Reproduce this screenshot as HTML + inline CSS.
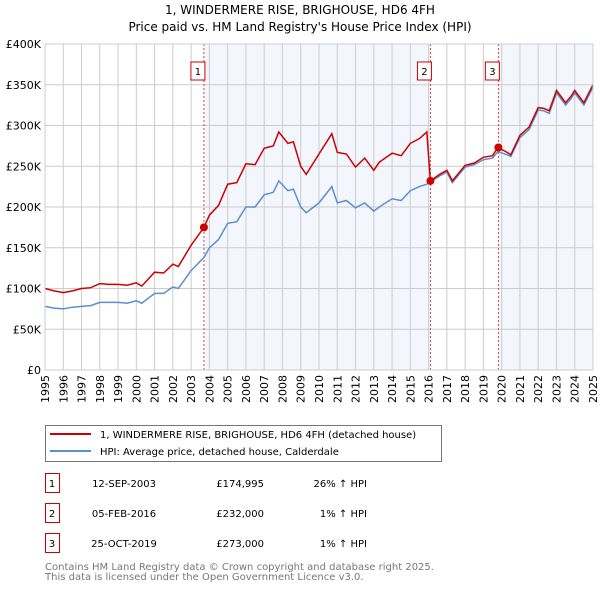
<!DOCTYPE html>
<html><head><meta charset="utf-8"><style>
body{margin:0;background:#fff;font-family:"DejaVu Sans","Liberation Sans",sans-serif}
svg text{font-family:"DejaVu Sans","Liberation Sans",sans-serif}
</style></head><body>
<svg id="c" width="600" height="590" xmlns="http://www.w3.org/2000/svg">
<text x="300" y="14" text-anchor="middle" font-size="12">1, WINDERMERE RISE, BRIGHOUSE, HD6 4FH</text>
<text x="300" y="31" text-anchor="middle" font-size="12">Price paid vs. HM Land Registry's House Price Index (HPI)</text>
<g id="plot"></g>
<rect x="45.5" y="425.5" width="396" height="36" fill="#fff" stroke="#777"/>
<line x1="50" y1="434" x2="91" y2="434" stroke="#cc0000" stroke-width="2"/>
<text x="100" y="438" font-size="10">1, WINDERMERE RISE, BRIGHOUSE, HD6 4FH (detached house)</text>
<line x1="50" y1="451" x2="91" y2="451" stroke="#5b8fcf" stroke-width="2"/>
<text x="100" y="455" font-size="10">HPI: Average price, detached house, Calderdale</text>
<g id="tbl"></g>
<text x="45" y="570" font-size="10" fill="#777">Contains HM Land Registry data © Crown copyright and database right 2025.</text>
<text x="45" y="580" font-size="10" fill="#777">This data is licensed under the Open Government Licence v3.0.</text>
</svg>
<script>
const years=[1995,1995.5,1996,1996.5,1997,1997.5,1998,1998.5,1999,1999.5,2000,2000.3,2001,2001.5,2002,2002.3,2003,2003.7,2004,2004.5,2005,2005.5,2006,2006.5,2007,2007.5,2007.8,2008.3,2008.6,2009,2009.3,2010,2010.7,2011,2011.5,2012,2012.5,2013,2013.3,2014,2014.5,2015,2015.5,2015.9,2016.1,2016.6,2017,2017.3,2018,2018.5,2019,2019.5,2019.8,2020.3,2020.5,2021,2021.5,2022,2022.3,2022.6,2023,2023.5,2023.8,2024,2024.5,2025];
const hpiValues=[78,76,75,77,78,79,83,83,83,82,85,82,94,94,102,100,122,138,150,160,180,182,200,200,215,218,232,220,222,200,193,205,225,205,208,199,205,195,200,210,208,220,225,228,231,238,243,230,249,252,258,260,268,264,262,285,295,319,318,315,340,325,333,340,325,347];
const priceValues=[100,97,95,97,100,101,106,105,105,104,107,103,120,119,130,127,153,175,190,202,228,230,253,252,272,275,292,278,280,250,240,265,290,267,265,249,260,245,255,266,263,278,284,292,232,240,245,232,251,254,261,263,273,267,264,288,298,322,321,318,343,328,336,343,328,350];
const yTicks=[0,50,100,150,200,250,300,350,400];
const xTickYears=[1995,1996,1997,1998,1999,2000,2001,2002,2003,2004,2005,2006,2007,2008,2009,2010,2011,2012,2013,2014,2015,2016,2017,2018,2019,2020,2021,2022,2023,2024,2025];
const saleYears=[2003.7,2016.1,2019.82];
const saleValues=[174.995,232,273];
const saleLabels=["1","2","3"];
const saleDates=["12-SEP-2003","05-FEB-2016","25-OCT-2019"];
const salePrices=["£174,995","£232,000","£273,000"];
const saleDiffs=["26% ↑ HPI","1% ↑ HPI","1% ↑ HPI"];
const NS="http://www.w3.org/2000/svg";
const X0=45,X1=593,Y0=370,Y1=44;
const xs=y=>X0+(y-1995)/30*(X1-X0);
const ys=v=>Y0-v/400*(Y0-Y1);
function mk(p,t,a){const e=document.createElementNS(NS,t);for(const k in a)e.setAttribute(k,a[k]);p.appendChild(e);return e;}
const g=document.getElementById('plot');
const shade1=mk(g,'rect',{x:xs(saleYears[0]),y:Y1,width:xs(saleYears[1])-xs(saleYears[0]),height:Y0-Y1,fill:'#f3f6fd'});


const shade2=mk(g,'rect',{x:xs(saleYears[2]),y:Y1,width:X1-xs(saleYears[2]),height:Y0-Y1,fill:'#f3f6fd'});


yTicks.forEach(v=>{
 const l=mk(g,'line',{x1:X0,x2:X1,y1:ys(v),y2:ys(v),stroke:'#ccc'});
 
 
 const t=mk(g,'text',{x:X0-4,y:ys(v)+4,'text-anchor':'end','font-size':11});
 
 
 t.textContent=v===0?'£0':'£'+v+'K';
});
xTickYears.forEach(yr=>{
 const l=mk(g,'line',{x1:xs(yr),x2:xs(yr),y1:Y1,y2:Y0,stroke:'#ccc'});
 
 
 const t=mk(g,'text',{transform:`translate(${xs(yr)+4},${Y0+5}) rotate(-90)`,'text-anchor':'end','font-size':11});
 
 
 t.textContent=yr;
});
saleYears.forEach((yr,i)=>{
 const l=mk(g,'line',{x1:xs(yr),x2:xs(yr),y1:Y1,y2:Y0,stroke:'#e04040','stroke-dasharray':'2,2','stroke-width':1});
 
 
 const b=mk(g,'rect',{x:xs(yr)-7-6,y:62,width:14,height:18,fill:'#fff',stroke:'#cc0000'});
 
 
 const t=mk(g,'text',{x:xs(yr)-6,y:75,'text-anchor':'middle','font-size':10});
 
 
 t.textContent=saleLabels[i];
});
const pts=a=>a.map((v,i)=>xs(years[i]).toFixed(1)+','+ys(v).toFixed(1)).join(' ');
const hl=mk(g,'polyline',{points:pts(hpiValues),fill:'none',stroke:'#5b8fcf','stroke-width':1.5});


const pl=mk(g,'polyline',{points:pts(priceValues),fill:'none',stroke:'#cc0000','stroke-width':1.5});


saleYears.forEach((yr,i)=>{
 const c=mk(g,'circle',{cx:xs(yr),cy:ys(saleValues[i]),r:4,fill:'#cc0000'});
 
 
});
const ax=mk(g,'rect',{x:X0,y:Y1,width:X1-X0,height:Y0-Y1,fill:'none',stroke:'#ccc'});


const tb=document.getElementById('tbl');
saleLabels.forEach((s,i)=>{
 const y=483+i*30;
 const b=mk(tb,'rect',{x:45.5,y:y-9.5,width:14,height:19,fill:'#fff',stroke:'#cc0000'});
 
 
 const cols=[[52,s,'middle'],[124,saleDates[i],'middle'],[264,salePrices[i],'end'],[367,saleDiffs[i],'end']];
 cols.forEach(([x,txt,anc],j)=>{
  const t=mk(tb,'text',{x:x,y:y+4,'text-anchor':anc,'font-size':10});
  
  
  t.textContent=txt;
 });
});
</script>
</body></html>
